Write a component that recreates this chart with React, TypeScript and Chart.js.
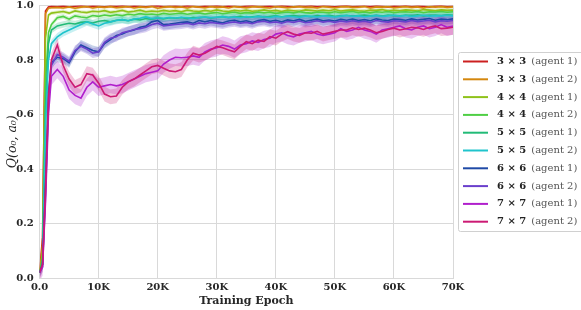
import React, { useEffect, useRef } from 'react';
import { Chart, registerables } from 'chart.js';
Chart.register(...registerables);

// Training epoch (thousands)
const EPOCH_K = [0, 0.5, 1, 1.5, 2,
  3, 4, 5, 6, 7, 8, 9, 10, 11, 12,
  13, 14, 15, 16, 17, 18, 19, 20, 21, 22,
  23, 24, 25, 26, 27, 28, 29, 30, 31, 32,
  33, 34, 35, 36, 37, 38, 39, 40, 41, 42,
  43, 44, 45, 46, 47, 48, 49, 50, 51, 52,
  53, 54, 55, 56, 57, 58, 59, 60, 61, 62,
  63, 64, 65, 66, 67, 68, 69, 70];

const SIZE_LABELS = ['3 × 3', '3 × 3', '4 × 4', '4 × 4', '5 × 5', '5 × 5', '6 × 6', '6 × 6', '7 × 7', '7 × 7'];
const AGENT_LABELS = ['(agent 1)', '(agent 2)', '(agent 1)', '(agent 2)', '(agent 1)', '(agent 2)', '(agent 1)', '(agent 2)', '(agent 1)', '(agent 2)'];
const COLORS = ['#cc2020', '#d4870e', '#8fc21a', '#4fcf45', '#22bb77', '#20c4cc', '#1f4aa6', '#6a3fcc', '#b01fcc', '#cc1a74'];
const BAND = [0.004, 0.005, 0.007, 0.009, 0.012, 0.014, 0.018, 0.018, 0.032, 0.027];

const Q_3x3_A1 = [0.02, 0.15, 0.98, 0.995, 0.997,
  0.996, 0.998, 0.995, 0.997, 0.999, 0.996, 0.998, 0.997, 0.995, 0.998,
  0.997, 0.999, 0.996, 0.998, 0.997, 0.995, 0.998, 0.999, 0.996, 0.997,
  0.998, 0.996, 0.999, 0.997, 0.995, 0.998, 0.997, 0.999, 0.996, 0.998,
  0.997, 0.995, 0.998, 0.999, 0.996, 0.997, 0.998, 0.996, 0.999, 0.997,
  0.995, 0.998, 0.997, 0.999, 0.996, 0.998, 0.997, 0.995, 0.998, 0.999,
  0.996, 0.997, 0.998, 0.996, 0.999, 0.997, 0.995, 0.998, 0.997, 0.999,
  0.996, 0.998, 0.997, 0.995, 0.998, 0.999, 0.996, 0.997];
const Q_3x3_A2 = [0.02, 0.12, 0.97, 0.99, 0.992,
  0.993, 0.991, 0.995, 0.99, 0.994, 0.996, 0.991, 0.995, 0.993, 0.996,
  0.992, 0.994, 0.996, 0.991, 0.995, 0.993, 0.996, 0.99, 0.994, 0.996,
  0.993, 0.995, 0.991, 0.996, 0.994, 0.992, 0.996, 0.993, 0.995, 0.991,
  0.996, 0.994, 0.992, 0.995, 0.996, 0.993, 0.991, 0.996, 0.994, 0.992,
  0.995, 0.996, 0.993, 0.994, 0.991, 0.996, 0.994, 0.992, 0.995, 0.996,
  0.993, 0.994, 0.996, 0.991, 0.995, 0.994, 0.996, 0.992, 0.994, 0.996,
  0.993, 0.995, 0.991, 0.996, 0.994, 0.996, 0.993, 0.995];
const Q_4x4_A1 = [0.02, 0.09, 0.88, 0.965, 0.972,
  0.975, 0.978, 0.972, 0.98, 0.976, 0.974, 0.979, 0.977, 0.981, 0.975,
  0.978, 0.982, 0.976, 0.979, 0.983, 0.977, 0.98, 0.978, 0.982, 0.979,
  0.981, 0.977, 0.983, 0.98, 0.978, 0.982, 0.979, 0.984, 0.98, 0.978,
  0.982, 0.98, 0.983, 0.979, 0.981, 0.984, 0.98, 0.982, 0.978, 0.983,
  0.981, 0.979, 0.984, 0.982, 0.98, 0.983, 0.981, 0.985, 0.98, 0.982,
  0.984, 0.981, 0.979, 0.983, 0.982, 0.985, 0.98, 0.983, 0.981, 0.984,
  0.982, 0.98, 0.985, 0.983, 0.981, 0.984, 0.982, 0.983];
const Q_4x4_A2 = [0.02, 0.07, 0.72, 0.9, 0.93,
  0.955, 0.96, 0.95, 0.962, 0.958, 0.955, 0.963, 0.96, 0.965, 0.962,
  0.966, 0.963, 0.968, 0.965, 0.97, 0.967, 0.969, 0.966, 0.971, 0.968,
  0.97, 0.972, 0.968, 0.971, 0.973, 0.969, 0.972, 0.974, 0.97, 0.973,
  0.975, 0.971, 0.974, 0.972, 0.976, 0.973, 0.975, 0.971, 0.974, 0.976,
  0.973, 0.977, 0.974, 0.972, 0.976, 0.975, 0.973, 0.977, 0.974, 0.976,
  0.978, 0.974, 0.976, 0.973, 0.977, 0.975, 0.978, 0.974, 0.976, 0.977,
  0.975, 0.978, 0.974, 0.977, 0.976, 0.978, 0.975, 0.977];
const Q_5x5_A1 = [0.02, 0.06, 0.62, 0.86, 0.91,
  0.925, 0.93, 0.935, 0.932, 0.938, 0.94, 0.936, 0.942, 0.945, 0.94,
  0.946, 0.948, 0.944, 0.95, 0.947, 0.952, 0.95, 0.954, 0.951, 0.955,
  0.953, 0.956, 0.952, 0.957, 0.955, 0.958, 0.954, 0.957, 0.959, 0.956,
  0.958, 0.96, 0.957, 0.959, 0.961, 0.958, 0.96, 0.962, 0.959, 0.961,
  0.963, 0.96, 0.962, 0.959, 0.963, 0.961, 0.964, 0.96, 0.962, 0.964,
  0.961, 0.963, 0.965, 0.962, 0.964, 0.961, 0.965, 0.963, 0.962, 0.965,
  0.963, 0.966, 0.962, 0.964, 0.965, 0.963, 0.966, 0.964];
const Q_5x5_A2 = [0.02, 0.05, 0.55, 0.8, 0.86,
  0.885, 0.9, 0.91, 0.92, 0.93, 0.94, 0.932, 0.925, 0.935, 0.94,
  0.945, 0.948, 0.944, 0.95, 0.953, 0.958, 0.952, 0.955, 0.953, 0.956,
  0.954, 0.957, 0.955, 0.952, 0.956, 0.958, 0.955, 0.957, 0.959, 0.956,
  0.958, 0.955, 0.959, 0.957, 0.96, 0.958, 0.956, 0.96, 0.958, 0.961,
  0.959, 0.957, 0.961, 0.96, 0.958, 0.962, 0.96, 0.958, 0.961, 0.963,
  0.96, 0.962, 0.959, 0.961, 0.963, 0.96, 0.962, 0.964, 0.961, 0.963,
  0.96, 0.962, 0.964, 0.961, 0.963, 0.962, 0.964, 0.962];
const Q_6x6_A1 = [0.02, 0.05, 0.35, 0.68, 0.79,
  0.81, 0.805, 0.79, 0.83, 0.855, 0.845, 0.835, 0.83, 0.86, 0.875,
  0.89, 0.895, 0.905, 0.91, 0.92, 0.925, 0.94, 0.945, 0.93, 0.932,
  0.935, 0.938, 0.94, 0.935, 0.945, 0.94, 0.945, 0.94, 0.937, 0.943,
  0.946, 0.94, 0.944, 0.938, 0.945, 0.948, 0.942, 0.946, 0.94, 0.947,
  0.944, 0.949, 0.942, 0.946, 0.95, 0.944, 0.947, 0.943, 0.949, 0.946,
  0.95, 0.945, 0.948, 0.944, 0.951, 0.947, 0.945, 0.95, 0.948, 0.946,
  0.951, 0.947, 0.949, 0.952, 0.946, 0.95, 0.948, 0.951];
const Q_6x6_A2 = [0.02, 0.04, 0.3, 0.64, 0.78,
  0.82, 0.81, 0.795, 0.835, 0.85, 0.84, 0.825, 0.83, 0.865, 0.88,
  0.885, 0.9, 0.905, 0.912, 0.915, 0.92, 0.93, 0.935, 0.925, 0.928,
  0.93, 0.932, 0.935, 0.93, 0.936, 0.933, 0.938, 0.935, 0.932, 0.937,
  0.94, 0.935, 0.938, 0.933, 0.94, 0.942, 0.937, 0.94, 0.935, 0.941,
  0.938, 0.943, 0.937, 0.94, 0.944, 0.939, 0.942, 0.938, 0.943, 0.94,
  0.944, 0.94, 0.942, 0.938, 0.945, 0.941, 0.939, 0.944, 0.942, 0.94,
  0.945, 0.941, 0.943, 0.946, 0.94, 0.944, 0.942, 0.945];
const Q_7x7_A1 = [0.02, 0.04, 0.28, 0.6, 0.74,
  0.765, 0.74, 0.69, 0.67, 0.66, 0.7, 0.72, 0.7, 0.705, 0.71,
  0.705, 0.71, 0.72, 0.73, 0.74, 0.75, 0.755, 0.76, 0.785, 0.8,
  0.81, 0.808, 0.81, 0.815, 0.81, 0.83, 0.84, 0.845, 0.855, 0.85,
  0.84, 0.855, 0.86, 0.87, 0.865, 0.875, 0.88, 0.895, 0.9, 0.89,
  0.885, 0.895, 0.9, 0.905, 0.895, 0.89, 0.895, 0.9, 0.915, 0.905,
  0.91, 0.92, 0.91, 0.905, 0.895, 0.91, 0.915, 0.92, 0.925, 0.915,
  0.91, 0.92, 0.925, 0.915, 0.92, 0.93, 0.92, 0.925];
const Q_7x7_A2 = [0.02, 0.05, 0.32, 0.66, 0.8,
  0.855, 0.78, 0.73, 0.7, 0.71, 0.75, 0.745, 0.715, 0.675, 0.665,
  0.668, 0.7, 0.72, 0.73, 0.745, 0.76, 0.775, 0.78, 0.77, 0.76,
  0.757, 0.765, 0.8, 0.825, 0.818, 0.825, 0.837, 0.85, 0.845, 0.837,
  0.83, 0.85, 0.867, 0.86, 0.873, 0.868, 0.886, 0.88, 0.895, 0.904,
  0.895, 0.89, 0.9, 0.898, 0.905, 0.895, 0.9, 0.905, 0.91, 0.91,
  0.918, 0.912, 0.917, 0.91, 0.9, 0.905, 0.912, 0.917, 0.91, 0.915,
  0.92, 0.918, 0.912, 0.92, 0.925, 0.915, 0.917, 0.92];

const SERIES = [Q_3x3_A1, Q_3x3_A2, Q_4x4_A1, Q_4x4_A2, Q_5x5_A1, Q_5x5_A2, Q_6x6_A1, Q_6x6_A2, Q_7x7_A1, Q_7x7_A2];

const X_TICKS = [0, 10, 20, 30, 40, 50, 60, 70];
const Y_TICKS = [0, 0.2, 0.4, 0.6, 0.8, 1.0];

const FONT = '"DejaVu Serif", serif';

function hexA(hex: string, a: number) {
  const r = parseInt(hex.slice(1, 3), 16), g = parseInt(hex.slice(3, 5), 16), b = parseInt(hex.slice(5, 7), 16);
  return `rgba(${r},${g},${b},${a})`;
}

const legendPlugin = {
  id: 'customLegend',
  afterDraw(chart: any) {
    const ctx = chart.ctx;
    ctx.save();
    const bx = 458.5, by = 52.5, bw = 130, bh = 179;
    ctx.fillStyle = '#ffffff';
    ctx.strokeStyle = '#d0d0d0';
    ctx.lineWidth = 1;
    ctx.beginPath();
    ctx.roundRect(bx, by, bw, bh, 2);
    ctx.fill();
    ctx.stroke();
    const y0 = 61.5, dy = 17.8;
    for (let i = 0; i < SERIES.length; i++) {
      const y = y0 + i * dy;
      ctx.strokeStyle = COLORS[i];
      ctx.lineWidth = 2;
      ctx.beginPath();
      ctx.moveTo(463, y);
      ctx.lineTo(488, y);
      ctx.stroke();
      ctx.textBaseline = 'middle';
      ctx.textAlign = 'left';
      ctx.font = `bold 10px ${FONT}`;
      ctx.fillStyle = '#222222';
      ctx.fillText(SIZE_LABELS[i], 497, y);
      const w = ctx.measureText(SIZE_LABELS[i]).width;
      ctx.font = `10px ${FONT}`;
      ctx.fillStyle = '#555555';
      ctx.fillText(AGENT_LABELS[i], 497 + w + 5, y);
    }
    ctx.restore();
  },
};

export default function App() {
  const ref = useRef<HTMLCanvasElement | null>(null);
  useEffect(() => {
    document.body.style.margin = '0';
    const datasets: any[] = [];
    SERIES.forEach((vals, i) => {
      datasets.push({
        label: 'band_hi_' + i,
        data: EPOCH_K.map((x, j) => ({ x, y: vals[j] + BAND[i] })),
        borderWidth: 0,
        pointRadius: 0,
        backgroundColor: hexA(COLORS[i], 0.25),
        fill: '+1',
        order: 50 - i,
      });
      datasets.push({
        label: 'band_lo_' + i,
        data: EPOCH_K.map((x, j) => ({ x, y: vals[j] - BAND[i] })),
        borderWidth: 0,
        pointRadius: 0,
        fill: false,
        order: 50 - i,
      });
    });
    SERIES.forEach((vals, i) => {
      datasets.push({
        label: SIZE_LABELS[i] + ' ' + AGENT_LABELS[i],
        data: EPOCH_K.map((x, j) => ({ x, y: vals[j] })),
        borderColor: COLORS[i],
        borderWidth: 1.6,
        pointRadius: 0,
        fill: false,
        order: -i,
      });
    });
    const chart = new Chart(ref.current!, {
      type: 'line',
      data: { datasets },
      plugins: [legendPlugin],
      options: {
        animation: false,
        responsive: false,
        layout: { padding: { left: 0, right: 128, top: 5.5, bottom: 0 } },
        plugins: { legend: { display: false }, tooltip: { enabled: false } },
        scales: {
          x: {
            type: 'linear',
            min: 0,
            max: 70,
            afterFit: (s: any) => { s.height = 32; s.paddingLeft = 0; s.paddingRight = 0; },
            afterBuildTicks: (s: any) => { s.ticks = X_TICKS.map((v) => ({ value: v })); },
            ticks: {
              padding: 3,
              color: '#262626',
              font: { family: FONT, size: 10, weight: 'bold' },
              callback: (v: any) => (v === 0 ? '0.0' : v + 'K'),
              maxRotation: 0,
            },
            grid: { color: '#d9d9d9', drawTicks: false, lineWidth: 1 },
            border: { display: true, color: '#d9d9d9' },
            title: {
              display: true,
              text: 'Training Epoch',
              color: '#262626',
              font: { family: FONT, size: 11, weight: 'bold' },
              padding: { top: 0, bottom: 2 },
            },
          },
          y: {
            type: 'linear',
            min: 0,
            max: 1,
            afterFit: (s: any) => { s.width = 39.6; s.paddingTop = 0; s.paddingBottom = 0; },
            afterBuildTicks: (s: any) => { s.ticks = Y_TICKS.map((v) => ({ value: v })); },
            ticks: {
              padding: 6,
              color: '#262626',
              font: { family: FONT, size: 10, weight: 'bold' },
              callback: (v: any) => Number(v).toFixed(1),
            },
            grid: { color: '#d9d9d9', drawTicks: false, lineWidth: 1 },
            border: { display: true, color: '#d9d9d9' },
            title: {
              display: true,
              text: 'Q(o₀, a₀)',
              color: '#262626',
              font: { family: FONT, size: 12.5, style: 'italic' },
              padding: { top: 5, bottom: 0 },
            },
          },
        },
      },
    });
    return () => chart.destroy();
  }, []);
  return (
    <div style={{ width: 581, height: 310 }}>
      <canvas ref={ref} width={581} height={310} style={{ display: 'block' }} />
    </div>
  );
}
